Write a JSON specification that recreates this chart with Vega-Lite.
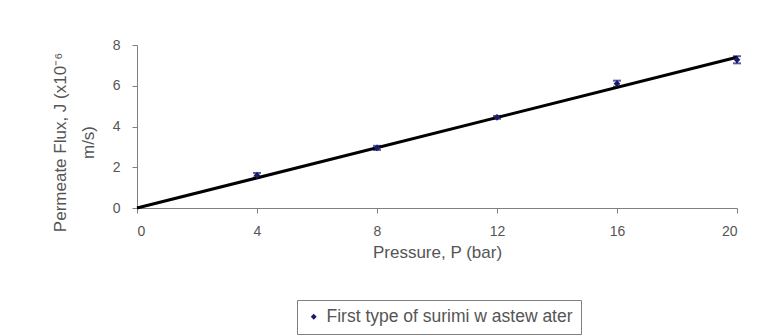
{
  "$schema": "https://vega.github.io/schema/vega-lite/v6.json",
  "autosize": "none",
  "width": 600,
  "height": 163,
  "padding": {"left": 137, "top": 45, "right": 20, "bottom": 127},
  "background": "white",
  "config": {
    "view": {"stroke": null},
    "font": "Liberation Sans",
    "axis": {
      "grid": false,
      "domainColor": "#808080",
      "tickColor": "#808080",
      "tickSize": 5,
      "labelColor": "#555555",
      "titleColor": "#555555",
      "labelFontSize": 14,
      "titleFontSize": 17,
      "titleFontWeight": "normal"
    }
  },
  "datasets": {
    "pts": [
      {"P": 4, "J": 1.6, "lo": 1.5, "hi": 1.72, "series": "First type of surimi w astew ater"},
      {"P": 8, "J": 2.95, "lo": 2.85, "hi": 3.05, "series": "First type of surimi w astew ater"},
      {"P": 12, "J": 4.45, "lo": 4.38, "hi": 4.52, "series": "First type of surimi w astew ater"},
      {"P": 16, "J": 6.1, "lo": 5.95, "hi": 6.25, "series": "First type of surimi w astew ater"},
      {"P": 20, "J": 7.28, "lo": 7.1, "hi": 7.45, "series": "First type of surimi w astew ater"}
    ],
    "fit": [
      {"P": 0, "J": 0},
      {"P": 20, "J": 7.4}
    ]
  },
  "layer": [
    {
      "data": {"name": "pts"},
      "mark": {"type": "rule", "color": "#1a1a6e", "strokeWidth": 2},
      "encoding": {
        "x": {"field": "P", "type": "quantitative"},
        "y": {"field": "lo", "type": "quantitative"},
        "y2": {"field": "hi"}
      }
    },
    {
      "data": {"name": "pts"},
      "mark": {"type": "tick", "color": "#1a1a6e", "thickness": 2, "size": 8, "orient": "horizontal"},
      "encoding": {
        "x": {"field": "P", "type": "quantitative"},
        "y": {"field": "lo", "type": "quantitative"}
      }
    },
    {
      "data": {"name": "pts"},
      "mark": {"type": "tick", "color": "#1a1a6e", "thickness": 2, "size": 8, "orient": "horizontal"},
      "encoding": {
        "x": {"field": "P", "type": "quantitative"},
        "y": {"field": "hi", "type": "quantitative"}
      }
    },
    {
      "data": {"name": "fit"},
      "mark": {"type": "line", "color": "black", "strokeWidth": 3},
      "encoding": {
        "x": {"field": "P", "type": "quantitative"},
        "y": {"field": "J", "type": "quantitative"}
      }
    },
    {
      "data": {"name": "pts"},
      "mark": {"type": "point", "shape": "diamond", "filled": true, "size": 45, "opacity": 1},
      "encoding": {
        "x": {
          "field": "P", "type": "quantitative",
          "scale": {"domain": [0, 20], "nice": false},
          "axis": {"values": [0, 4, 8, 12, 16, 20], "title": "Pressure, P (bar)", "labelPadding": 11, "titlePadding": 6}
        },
        "y": {
          "field": "J", "type": "quantitative",
          "scale": {"domain": [0, 8], "nice": false},
          "axis": {
            "values": [0, 2, 4, 6, 8],
            "title": ["Permeate Flux, J (x10⁻⁶", "m/s)"],
            "labelPadding": 12,
            "titleLineHeight": 28,
            "titleX": -77,
            "titleY": 97,
            "titleAngle": -90,
            "titleAlign": "center",
            "titleBaseline": "middle"
          }
        },
        "color": {
          "field": "series", "type": "nominal",
          "scale": {"range": ["#1a1a6e"]},
          "legend": {
            "title": null,
            "orient": "none",
            "legendX": 160,
            "legendY": 255,
            "direction": "vertical",
            "strokeColor": "#808080",
            "fillColor": "white",
            "padding": 8,
            "symbolType": "diamond",
            "symbolSize": 35,
            "labelFontSize": 17.5,
            "labelColor": "#555555",
            "labelLimit": 400
          }
        }
      }
    }
  ]
}
